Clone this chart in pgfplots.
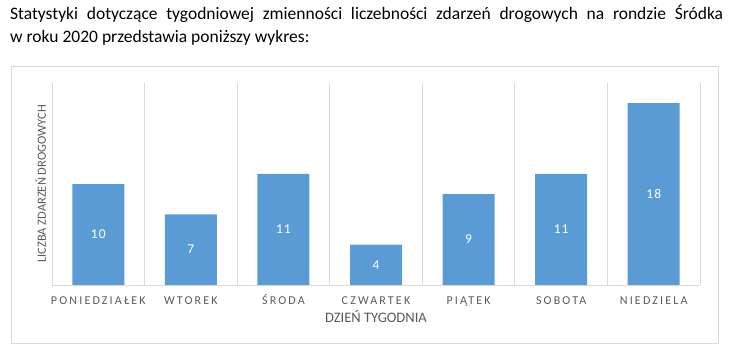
\documentclass[border=0pt]{standalone}
\usepackage{fontspec}
\setmainfont{Carlito}
\newfontfamily\spaced[LetterSpace=18]{Carlito}
\newfontfamily\spacedn[LetterSpace=8]{Carlito}
\usepackage{pgfplots}
\pgfplotsset{compat=1.18}
\definecolor{barblue}{HTML}{5B9BD5}
\definecolor{gridgray}{HTML}{D9D9D9}
\definecolor{txtgray}{HTML}{595959}
\begin{document}
\begin{tikzpicture}
\path[use as bounding box] (0pt,0pt) rectangle (746pt,362pt);
\node[anchor=base west, inner sep=0pt, font=\fontsize{17.5}{20}\selectfont] at (10pt,342.5pt) {\makebox[713pt][s]{Statystyki dotyczące tygodniowej zmienności liczebności zdarzeń drogowych na rondzie Śródka}};
\node[anchor=base west, inner sep=0pt, font=\fontsize{17.5}{20}\selectfont] at (10pt,319pt) {w roku 2020 przedstawia poniższy wykres:};
\draw[gridgray, line width=1pt] (11pt,19pt) rectangle (718pt,295pt);
\begin{axis}[
  at={(52pt,77pt)}, anchor=south west,
  scale only axis, width=648pt, height=202pt,
  xmin=-0.5, xmax=6.5, ymin=0, ymax=20,
  xtick={0,...,6},
  xticklabels={PONIEDZIAŁEK,WTOREK,ŚRODA,CZWARTEK,PIĄTEK,SOBOTA,NIEDZIELA},
  ytick=\empty,
  minor xtick={-0.5,0.5,...,6.5},
  xminorgrids=true, xmajorgrids=false,
  minor x grid style={gridgray, line width=1pt},
  major tick length=0pt, minor tick length=0pt,
  axis line style={draw=none},
  /pgf/number format/assume math mode=true,
  xticklabel style={font=\spaced\fontsize{12}{12}\selectfont, text=txtgray, text height=8pt, text depth=0pt, inner sep=0pt, anchor=north, yshift=-11pt},
  ylabel={LICZBA ZDARZEŃ DROGOWYCH},
  ylabel style={at={(axis description cs:-0.00926,0.5)}, anchor=base, font=\fontsize{12.5}{12.5}\selectfont, text=txtgray, inner sep=0pt},
  xlabel={DZIEŃ TYGODNIA},
  xlabel style={at={(axis description cs:0.5,-0.1881)}, anchor=base, font=\fontsize{14.5}{14.5}\selectfont, text=txtgray, inner sep=0pt},
]
\addplot[ybar, bar width=52pt, fill=barblue, draw=none,
  nodes near coords,
  visualization depends on={rawy \as \rawy},
  nodes near coords style={anchor=center, yshift=-\rawy*5.05pt, text=white, font=\spacedn\fontsize{13.5}{13.5}\selectfont}]
  coordinates {(0,10) (1,7) (2,11) (3,4) (4,9) (5,11) (6,18)};
\draw[gridgray, line width=1pt] (axis cs:-0.5,0) -- (axis cs:6.5,0);
\end{axis}
\end{tikzpicture}
\end{document}
